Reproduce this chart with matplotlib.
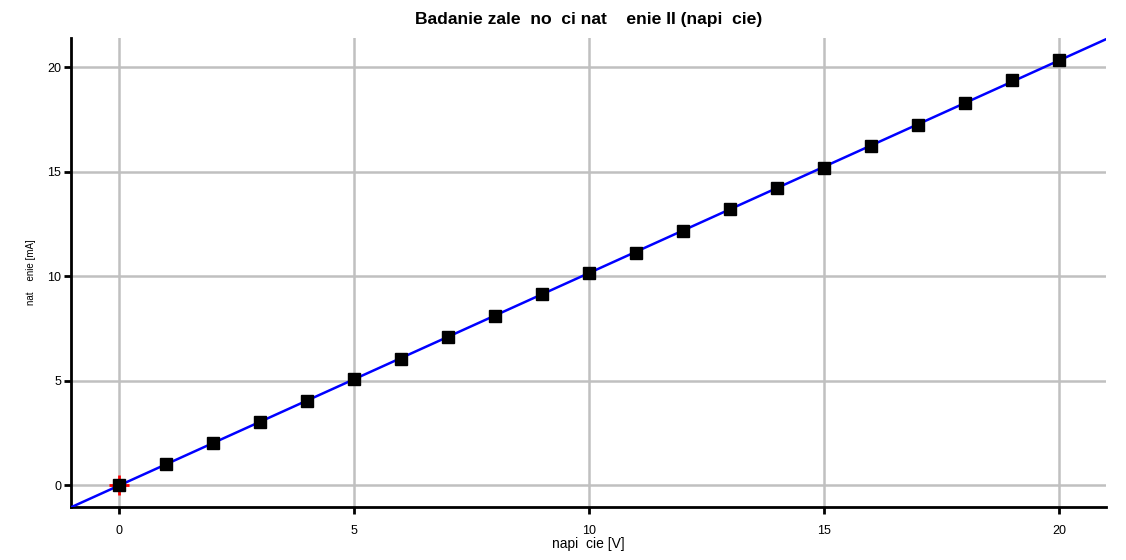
import numpy as np
import matplotlib
matplotlib.use("Agg")
import matplotlib.pyplot as plt

plt.rcParams['font.family'] = ['Liberation Sans', 'DejaVu Sans']

voltage = [0, 1, 2, 3, 4, 5, 6, 7, 8, 9, 10, 11, 12, 13, 14, 15, 16, 17, 18, 19, 20]
current = [0.0, 1.01, 2.02, 3.03, 4.04, 5.1, 6.05, 7.1, 8.08, 9.16, 10.14, 11.12,
           12.15, 13.2, 14.2, 15.2, 16.25, 17.25, 18.3, 19.38, 20.36]
x_ticks = [0, 5, 10, 15, 20]
y_ticks = [0, 5, 10, 15, 20]

title = "Badanie zale  no  ci nat    enie II (napi  cie)"
xlabel = "napi  cie [V]"
ylabel = "nat    enie [mA]"

fig = plt.figure(figsize=(11.26, 5.6), dpi=100)
ax = fig.add_axes([71/1126, 1 - 507/560, (1106-71)/1126, (507-38)/560])

xlim = (-1.02, 21.0)
ylim = (-1.05, 21.4)

coef = np.polyfit(voltage, current, 1)
xf = np.linspace(xlim[0], xlim[1], 200)
ax.plot(xf, np.polyval(coef, xf), color='#0000ff', lw=1.8, zorder=3)
ax.plot([voltage[0]], [current[0]], marker='+', color='red', ms=14, mew=2, zorder=4, ls='none')
ax.plot(voltage, current, marker='s', color='black', ms=8, ls='none', zorder=5)

ax.set_xlim(*xlim)
ax.set_ylim(*ylim)
ax.set_xticks(x_ticks)
ax.set_yticks(y_ticks)
ax.grid(True, color='#c0c0c0', lw=1.8)
ax.set_axisbelow(True)
for s in ['top', 'right']:
    ax.spines[s].set_visible(False)
for s in ['left', 'bottom']:
    ax.spines[s].set_linewidth(2)
    ax.spines[s].set_color('black')
ax.tick_params(direction='out', length=5, width=2, labelsize=9, colors='black')
ax.tick_params(axis='x', pad=8)
ax.tick_params(axis='y', pad=2)

ax.set_title(title, fontsize=12.6, fontweight='bold', pad=10)
ax.set_xlabel(xlabel, fontsize=10, labelpad=0)
ax.set_ylabel(ylabel, fontsize=7, labelpad=8)

fig.savefig("out.png", dpi=100)
